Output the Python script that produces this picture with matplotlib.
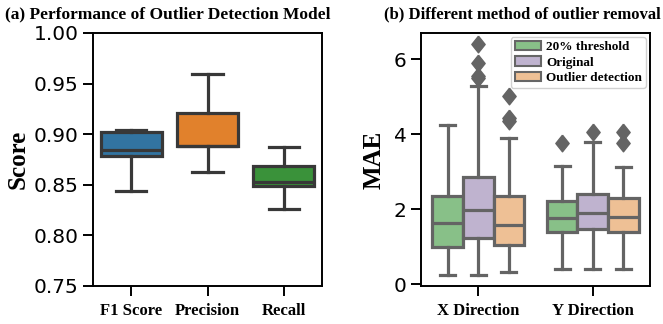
import matplotlib
matplotlib.use("Agg")
import matplotlib.pyplot as plt
import seaborn as sns

# panel (a) - box stats
metrics = ["F1 Score", "Precision", "Recall"]
m_whislo = [0.844, 0.863, 0.826]
m_q1 = [0.878, 0.888, 0.849]
m_med = [0.884, 0.888, 0.853]
m_q3 = [0.902, 0.921, 0.869]
m_whishi = [0.904, 0.959, 0.887]

# panel (b)
directions = ["X Direction", "Y Direction"]
methods = ["20% threshold", "Original", "Outlier detection"]
# [direction][method]
mae_whislo = [[0.25, 0.25, 0.31], [0.40, 0.40, 0.40]]
mae_q1 = [[0.99, 1.23, 1.05], [1.38, 1.47, 1.40]]
mae_med = [[1.62, 1.98, 1.58], [1.76, 1.89, 1.78]]
mae_q3 = [[2.34, 2.85, 2.34], [2.22, 2.40, 2.29]]
mae_whishi = [[4.25, 5.29, 3.91], [3.15, 3.80, 3.12]]
mae_fliers = [[[], [5.5, 5.55, 5.9, 6.4], [4.35, 4.42, 5.02]],
              [[3.76], [4.07], [3.76, 4.07]]]

serif = "Liberation Serif"
left_colors = sns.color_palette("tab10", 3, desat=0.75)
right_colors = sns.color_palette("Accent", 3, desat=0.75)
diamond = [(0, 1), (0.8, 0), (0, -1), (-0.8, 0), (0, 1)]

fig = plt.figure(figsize=(6.63, 3.24), dpi=100)
ax1 = fig.add_axes([0.1403, 0.1173, 0.3454, 0.781])
ax2 = fig.add_axes([0.635, 0.1173, 0.3454, 0.781])


def draw_box(ax, stats, positions, width, color, edge, lw):
    ax.bxp(stats, positions=positions, widths=width, patch_artist=True,
           showfliers=True, manage_ticks=False,
           boxprops=dict(facecolor=color, edgecolor=edge, linewidth=lw),
           medianprops=dict(color=edge, linewidth=lw),
           whiskerprops=dict(color=edge, linewidth=lw),
           capprops=dict(color=edge, linewidth=lw),
           flierprops=dict(marker=diamond, markersize=12, markerfacecolor=edge,
                           markeredgecolor=edge, linestyle="none"))


for i in range(len(metrics)):
    st = [dict(whislo=m_whislo[i], q1=m_q1[i], med=m_med[i], q3=m_q3[i],
               whishi=m_whishi[i], fliers=[])]
    draw_box(ax1, st, [i], 0.8, left_colors[i], "#383838", 2.3)

ax1.set_xlim(-0.5, 2.5)
ax1.set_ylim(0.75, 1.0)
ax1.set_xticks(range(len(metrics)))
ax1.set_xticklabels(metrics, fontfamily=serif, fontweight="bold", fontsize=12)
ax1.set_yticks([0.75, 0.80, 0.85, 0.90, 0.95, 1.00])
ax1.set_yticklabels(["%.2f" % v for v in [0.75, 0.80, 0.85, 0.90, 0.95, 1.00]], fontsize=14.5)
ax1.set_ylabel("Score", fontfamily=serif, fontweight="bold", fontsize=18, labelpad=3)

w = 0.8 / len(methods)
for d in range(len(directions)):
    for k in range(len(methods)):
        st = [dict(whislo=mae_whislo[d][k], q1=mae_q1[d][k], med=mae_med[d][k],
                   q3=mae_q3[d][k], whishi=mae_whishi[d][k],
                   fliers=mae_fliers[d][k])]
        draw_box(ax2, st, [d + (k - 1) * w], w, right_colors[k], "#646464", 2.3)

ax2.set_xlim(-0.5, 1.5)
ax2.set_ylim(-0.05, 6.7)
ax2.set_xticks(range(len(directions)))
ax2.set_xticklabels(directions, fontfamily=serif, fontweight="bold", fontsize=12)
ax2.set_yticks([0, 2, 4, 6])
ax2.tick_params(axis="y", labelsize=14.5)
ax2.set_ylabel("MAE", fontfamily=serif, fontweight="bold", fontsize=18, labelpad=6)

handles = [plt.Rectangle((0, 0), 1, 1, facecolor=right_colors[k], edgecolor="#666666",
                         linewidth=1.5) for k in range(len(methods))]
ax2.legend(handles, methods, loc="upper right", prop=dict(family=serif, weight="bold", size=9.5),
           handlelength=2.0, handleheight=0.7, labelspacing=0.25, borderpad=0.3,
           handletextpad=0.4, borderaxespad=0.3, framealpha=0.9, edgecolor="#cccccc")

for ax in (ax1, ax2):
    for s in ax.spines.values():
        s.set_linewidth(1.4)
        s.set_color("black")
    ax.tick_params(length=7, width=1.4, direction="out")
    ax.tick_params(axis="x", pad=5)

fig.text(0.253, 0.955, "(a) Performance of Outlier Detection Model", ha="center", va="center",
         fontfamily=serif, fontweight="bold", fontsize=12.5)
fig.text(0.997, 0.955, "(b) Different method of outlier removal", ha="right", va="center",
         fontfamily=serif, fontweight="bold", fontsize=12)

fig.savefig("out.png", dpi=100)
